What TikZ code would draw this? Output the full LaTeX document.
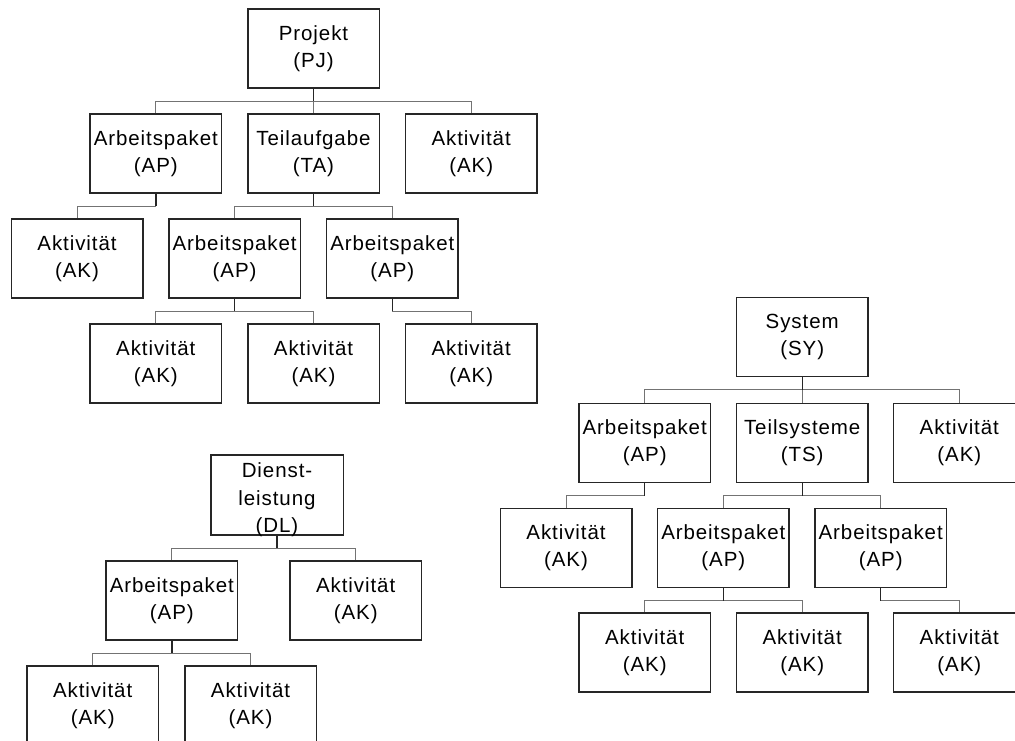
\documentclass[tikz,border=0pt]{standalone}
\usepackage{fontspec}
\setmainfont{Liberation Sans}[LetterSpace=4.5]
\begin{document}
\begin{tikzpicture}[x=1pt,y=-1pt,
  box/.style={draw=black!85, line width=1.5pt, minimum width=131.5pt,
    minimum height=79pt, inner sep=0pt, align=center,
    font=\fontsize{20.5}{26.8}\selectfont},
  plain/.style={inner sep=0pt, align=center, font=\fontsize{20.5}{27.5}\selectfont},
  stem/.style={line width=1.4pt, draw=black!85},
  link/.style={line width=0.9pt, draw=black!55}]
\clip (0,0) rectangle (1015,740);

% ---------- Projekt ----------
\node[box] (pj)  at (313.5,48.5)  {Projekt\\(PJ)};
\node[box] (ap1) at (155.8,153.5) {Arbeitspaket\\(AP)};
\node[box] (ta)  at (313.5,153.5) {Teilaufgabe\\(TA)};
\node[box] (ak1) at (471.2,153.5) {Aktivität\\(AK)};
\node[box] (ak2) at (77,258.5)    {Aktivität\\(AK)};
\node[box] (ap2) at (234.6,258.5) {Arbeitspaket\\(AP)};
\node[box] (ap3) at (392.3,258.5) {Arbeitspaket\\(AP)};
\node[box] (ak3) at (155.8,363.5) {Aktivität\\(AK)};
\node[box] (ak4) at (313.5,363.5) {Aktivität\\(AK)};
\node[box] (ak5) at (471.2,363.5) {Aktivität\\(AK)};

\path (pj.south)  ++(0,12.5) coordinate (pjb);
\path (ap1.south) ++(0,12.5) coordinate (ap1b);
\path (ta.south)  ++(0,12.5) coordinate (tab);
\path (ap2.south) ++(0,12.5) coordinate (ap2b);
\path (ap3.south) ++(0,12.5) coordinate (ap3b);

\draw[link] (pjb) -| (ap1.north);
\draw[link] (pjb) -| (ta.north);
\draw[link] (pjb) -| (ak1.north);
\draw[stem] (pj.south) -- (pjb);
\draw[link] (ap1b) -| (ak2.north);
\draw[stem] (ap1.south) -- (ap1b);
\draw[link] (tab) -| (ap2.north);
\draw[link] (tab) -| (ap3.north);
\draw[stem] (ta.south) -- (tab);
\draw[link] (ap2b) -| (ak3.north);
\draw[link] (ap2b) -| (ak4.north);
\draw[stem] (ap2.south) -- (ap2b);
\draw[link] (ap3b) -| (ak5.north);
\draw[stem] (ap3.south) -- (ap3b);

% ---------- System ----------
\node[box] (sy)   at (802.2,336.8) {System\\(SY)};
\node[box] (sap1) at (644.7,442.8) {Arbeitspaket\\(AP)};
\node[box] (ts)   at (802.2,442.8) {Teilsysteme\\(TS)};
\node[box] (sak1) at (959.3,442.8) {Aktivität\\(AK)};
\node[box] (sak2) at (566,547.8)   {Aktivität\\(AK)};
\node[box] (sap2) at (723.3,547.8) {Arbeitspaket\\(AP)};
\node[box] (sap3) at (880.7,547.8) {Arbeitspaket\\(AP)};
\node[box] (sak3) at (644.7,652.5) {Aktivität\\(AK)};
\node[box] (sak4) at (802.2,652.5) {Aktivität\\(AK)};
\node[box] (sak5) at (959.3,652.5) {Aktivität\\(AK)};

\path (sy.south)   ++(0,12.5) coordinate (syb);
\path (sap1.south) ++(0,12.5) coordinate (sap1b);
\path (ts.south)   ++(0,12.5) coordinate (tsb);
\path (sap2.south) ++(0,12.5) coordinate (sap2b);
\path (sap3.south) ++(0,12.5) coordinate (sap3b);

\draw[link] (syb) -| (sap1.north);
\draw[link] (syb) -| (ts.north);
\draw[link] (syb) -| (sak1.north);
\draw[stem] (sy.south) -- (syb);
\draw[link] (sap1b) -| (sak2.north);
\draw[stem] (sap1.south) -- (sap1b);
\draw[link] (tsb) -| (sap2.north);
\draw[link] (tsb) -| (sap3.north);
\draw[stem] (ts.south) -- (tsb);
\draw[link] (sap2b) -| (sak3.north);
\draw[link] (sap2b) -| (sak4.north);
\draw[stem] (sap2.south) -- (sap2b);
\draw[link] (sap3b) -| (sak5.north);
\draw[stem] (sap3.south) -- (sap3b);

% ---------- Dienstleistung ----------
\node[box, minimum width=132.5pt, minimum height=80pt] (dl) at (277,495) {};
\node[plain] (dlt) at (277,500) {Dienst-\\leistung\\(DL)};
\node[box] (dap)  at (171.8,600.5) {Arbeitspaket\\(AP)};
\node[box] (dak1) at (355.7,600.5) {Aktivität\\(AK)};
\node[box] (dak2) at (92.7,705.5)  {Aktivität\\(AK)};
\node[box] (dak3) at (250.5,705.5) {Aktivität\\(AK)};

\path (dl.south)  ++(0,12.5) coordinate (dlb);
\path (dap.south) ++(0,12.5) coordinate (dapb);

\draw[link] (dlb) -| (dap.north);
\draw[link] (dlb) -| (dak1.north);
\draw[stem] (dl.south) -- (dlb);
\draw[link] (dapb) -| (dak2.north);
\draw[link] (dapb) -| (dak3.north);
\draw[stem] (dap.south) -- (dapb);
\end{tikzpicture}
\end{document}
